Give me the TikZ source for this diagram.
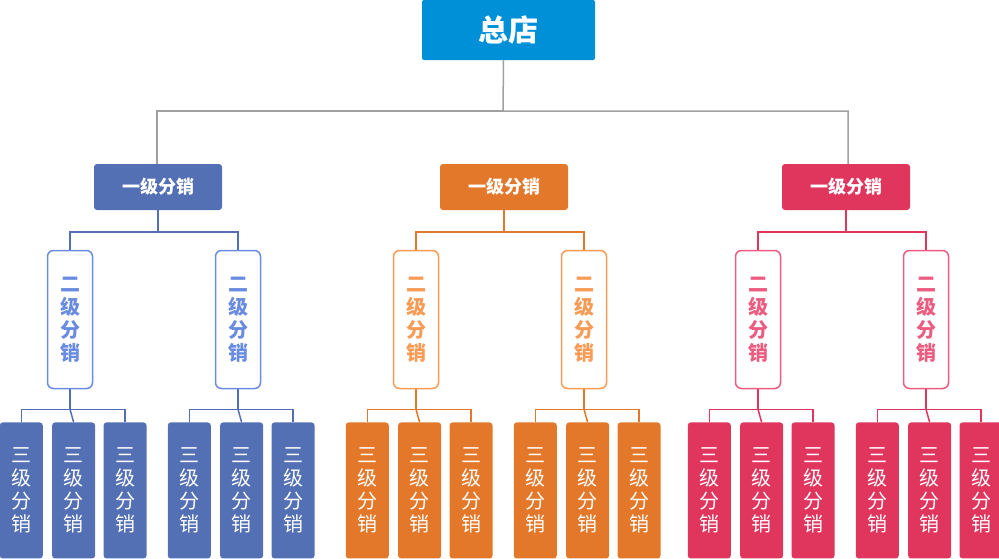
\documentclass[tikz,border=0pt]{standalone}
\usepackage{fontspec}
\setmainfont{Noto Sans CJK SC}
\newfontfamily\cjkbold[BoldFont={* Bold}]{Noto Sans CJK SC}
\definecolor{topblue}{HTML}{0090D8}
\definecolor{grpblue}{HTML}{5470B4}
\definecolor{grplight}{HTML}{6A8CE0}
\definecolor{grporange}{HTML}{E4782A}
\definecolor{grporlight}{HTML}{F99A55}
\definecolor{grpred}{HTML}{E0365E}
\definecolor{grpredlight}{HTML}{EC5C80}
\definecolor{linegray}{HTML}{A0A0A0}
\usetikzlibrary{positioning}
\tikzset{
  headbox/.style={fill=topblue, rounded corners=2pt, minimum width=173pt, minimum height=60pt,
    text=white, font=\fontsize{30}{30}\selectfont\bfseries, inner sep=0pt},
  firstbox/.style={fill=#1, rounded corners=3pt, minimum width=128pt, minimum height=46pt,
    text=white, font=\fontsize{18}{18}\selectfont\bfseries, inner sep=0pt},
  secondbox/.style={draw=#1, fill=white, line width=1.5pt, rounded corners=6pt, minimum width=45pt,
    minimum height=138pt, text=#1, font=\fontsize{20}{23}\selectfont\bfseries, align=center, inner sep=0pt},
  thirdbox/.style={fill=#1, rounded corners=3pt, minimum width=43pt, minimum height=136pt,
    text=white, font=\fontsize{20}{23}\selectfont, align=center, inner sep=0pt},
  link/.style={draw=#1, line width=1.5pt}
}
\begin{document}
\begin{tikzpicture}[x=1pt, y=-1pt]
	\useasboundingbox (0,0) rectangle (999,558);
	\node[headbox] (top) at (508.5, 30) {总店};

	\node[firstbox=grpblue]   (la) at (158, 187) {一级分销};
	\node[firstbox=grporange] (lb) at (504, 187) {一级分销};
	\node[firstbox=grpred]    (lc) at (846, 187) {一级分销};

	\draw[link=linegray] (top.south) ++(-5,0) |- (157,111) -- (la.north -| 157,0);
	\draw[link=linegray] (top.south) ++(-5,0) -- (503,111) -| (848,164);

	\foreach \grp/\dark/\light/\ca/\cb in {la/grpblue/grplight/70/238,
	                                       lb/grporange/grporlight/416/584,
	                                       lc/grpred/grpredlight/758/926}{
		\node[secondbox=\light] (\grp-a) at (\ca, 319.5) {二\\级\\分\\销};
		\node[secondbox=\light] (\grp-b) at (\cb, 319.5) {二\\级\\分\\销};
		\draw[link=\dark] (\grp.south) -- ++(0,22) -| (\grp-a.north);
		\draw[link=\dark] (\grp.south) ++(0,22) -| (\grp-b.north);
		\foreach \sub in {a,b}{
			\node[thirdbox=\dark] (\grp-\sub-1) [below=33pt of \grp-\sub.south west, anchor=north, xshift=-25.5pt] {三\\级\\分\\销};
			\node[thirdbox=\dark] (\grp-\sub-2) [right=9pt of \grp-\sub-1] {三\\级\\分\\销};
			\node[thirdbox=\dark] (\grp-\sub-3) [right=8pt of \grp-\sub-2] {三\\级\\分\\销};
			\draw[link=\dark] (\grp-\sub.south) -- ++(0,20) coordinate (\grp-\sub-m);
			\draw[link=\dark] (\grp-\sub-1.north) |- (\grp-\sub-m) -| (\grp-\sub-3.north);
			\draw[link=\dark] (\grp-\sub-m) -- (\grp-\sub-2.north);
		}
	}
\end{tikzpicture}
\end{document}
